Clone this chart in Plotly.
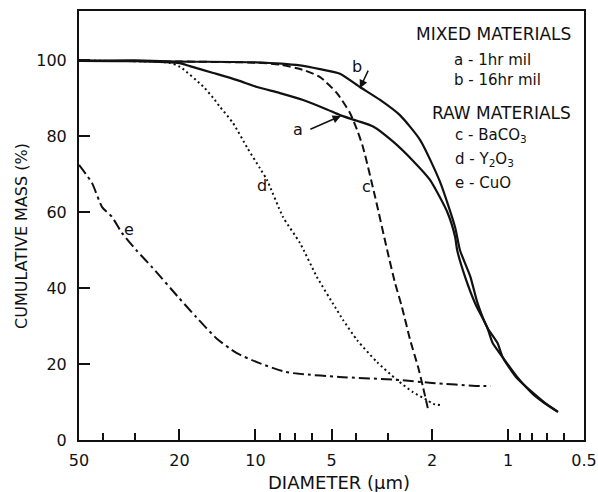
import math
import plotly.graph_objects as go

# ---- data (diameter in um, cumulative mass in %) ----
a_diam = [50, 30, 20, 18.2, 14.7, 11.8, 9.86, 8.0, 6.48, 5.21, 4.63, 3.96, 3.42, 2.85, 2.38, 2.04,
          1.74, 1.62, 1.59, 1.48, 1.35, 1.21, 1.15, 1.05, 0.92, 0.80, 0.72, 0.634]
a_mass = [99.8, 99.7, 99.2, 98.4, 96.6, 94.7, 92.9, 91.3, 89.5, 87.0, 85.5, 84.0, 82.5, 78.5, 73.5, 68.5,
          60.0, 53.5, 50.0, 43.0, 36.0, 29.7, 25.5, 21.8, 16.6, 12.2, 9.8, 7.4]

b_diam = [50, 30, 20, 10, 6.66, 5.55, 4.63, 3.86, 3.21, 2.68, 2.23, 1.86, 1.62, 1.55, 1.41, 1.32,
          1.21, 1.10, 1.05, 0.93, 0.796, 0.714, 0.634]
b_mass = [99.8, 99.9, 99.6, 99.4, 98.6, 97.6, 96.4, 92.9, 89.5, 85.5, 79.0, 68.0, 56.0, 50.0, 43.0, 36.0,
          29.7, 25.5, 21.8, 16.6, 12.4, 9.8, 7.4]

c_diam = [50, 20, 10, 8.0, 6.48, 5.55, 4.76, 4.22, 3.96, 3.75, 3.36, 3.01, 2.80, 2.63, 2.44, 2.27, 2.17, 2.07]
c_mass = [99.8, 99.6, 99.3, 98.8, 97.4, 95.5, 91.3, 86.0, 81.6, 77.0, 64.0, 50.0, 41.3, 35.0, 26.3, 19.2, 13.9, 7.9]

d_diam = [50, 30, 22, 19.9, 16.1, 14.7, 13.8, 12.3, 10.8, 9.6, 9.0, 7.78, 6.66, 5.71, 4.84, 4.50,
          3.96, 3.30, 2.75, 2.38, 2.09, 1.98, 1.86]
d_mass = [99.8, 99.7, 99.3, 98.2, 93.0, 90.0, 87.6, 83.5, 77.0, 71.5, 68.4, 58.7, 51.8, 42.9, 35.0, 31.6,
          26.3, 20.5, 15.8, 12.6, 10.5, 9.5, 9.2]

e_diam = [50, 44.4, 40.5, 37.0, 33.8, 29.7, 25.7, 20.1, 17.2, 14.3, 11.9, 9.7, 7.6, 6.66, 4.67, 2.68,
          2.0, 1.29, 1.17]
e_mass = [72.4, 67.6, 61.3, 58.7, 54.5, 50.0, 45.5, 37.4, 32.4, 26.8, 22.9, 20.3, 17.9, 17.4, 16.6, 15.8,
          15.0, 14.2, 14.2]

x_tickvals = [50, 20, 10, 5, 2, 1, 0.5]
x_ticktext = ["50", "20", "10", "5", "2", "1", "0.5"]
x_minor = [40, 30, 8, 7, 6, 4, 3, 0.9, 0.8, 0.7, 0.6]
y_tickvals = [0, 20, 40, 60, 80, 100]

FONT = "DejaVu Sans"
INK = "#111111"

fig = go.Figure()
def add(x, y, width, dash=None):
    fig.add_trace(go.Scatter(x=x, y=y, mode="lines",
                             line=dict(color=INK, width=width, dash=dash, shape="spline", smoothing=0.6)))
add(a_diam, a_mass, 2.2)
add(b_diam, b_mass, 2.2)
add(c_diam, c_mass, 2, "8px,4px")
add(d_diam, d_mass, 2, "2px,3px")
add(e_diam, e_mass, 2, "11px,4px,3px,4px")

L = math.log10
ann = []
# curve labels
for txt, dx, yy in [("a", 6.79, 81.6), ("b", 3.96, 98.2), ("c", 3.62, 66.6), ("d", 9.4, 67.1), ("e", 31.7, 55.3)]:
    ann.append(dict(x=L(dx), y=yy, xref="x", yref="y", text=txt, showarrow=False,
                    font=dict(family=FONT, size=16, color=INK)))
# arrows
ann.append(dict(x=L(4.59), y=85.3, xref="x", yref="y", text="", showarrow=True, ax=-32, ay=14,
                arrowhead=2, arrowsize=1.1, arrowwidth=1.5, arrowcolor=INK, standoff=0))
ann.append(dict(x=L(3.86), y=92.6, xref="x", yref="y", text="", showarrow=True, ax=9, ay=-19,
                arrowhead=2, arrowsize=1.1, arrowwidth=1.5, arrowcolor=INK, standoff=0))

# legend block
hdr = dict(family=FONT, size=17, color=INK)
ent = dict(family=FONT, size=15, color=INK)
ann.append(dict(x=0.978, y=0.946, xref="paper", yref="paper", text="MIXED MATERIALS", showarrow=False,
                xanchor="right", yanchor="middle", font=hdr))
ann.append(dict(x=0.739, y=0.885, xref="paper", yref="paper", text="a - 1hr mil", showarrow=False,
                xanchor="left", yanchor="middle", font=ent))
ann.append(dict(x=0.739, y=0.839, xref="paper", yref="paper", text="b - 16hr mil", showarrow=False,
                xanchor="left", yanchor="middle", font=ent))
ann.append(dict(x=0.978, y=0.762, xref="paper", yref="paper", text="RAW MATERIALS", showarrow=False,
                xanchor="right", yanchor="middle", font=hdr))
ann.append(dict(x=0.741, y=0.709, xref="paper", yref="paper", text="c - BaCO<sub>3</sub>", showarrow=False,
                xanchor="left", yanchor="middle", font=ent))
ann.append(dict(x=0.741, y=0.655, xref="paper", yref="paper", text="d - Y<sub>2</sub>O<sub>3</sub>", showarrow=False,
                xanchor="left", yanchor="middle", font=ent))
ann.append(dict(x=0.741, y=0.599, xref="paper", yref="paper", text="e - CuO", showarrow=False,
                xanchor="left", yanchor="middle", font=ent))
# axis titles
ann.append(dict(x=0.515, y=-0.100, xref="paper", yref="paper", text="DIAMETER (μm)", showarrow=False,
                xanchor="center", yanchor="middle", font=dict(family=FONT, size=18, color=INK)))
ann.append(dict(x=-0.115, y=0.4755, xref="paper", yref="paper", text="CUMULATIVE MASS (%)", showarrow=False,
                textangle=-90, xanchor="center", yanchor="middle", font=dict(family=FONT, size=16, color=INK)))

fig.update_layout(
    width=598, height=492,
    margin=dict(l=79, r=14, t=11, b=52),
    paper_bgcolor="white", plot_bgcolor="white",
    showlegend=False,
    annotations=ann,
    font=dict(family=FONT, color=INK),
    xaxis=dict(
        type="log", range=[L(50), L(0.5)], automargin=False,
        tickmode="array", tickvals=x_tickvals, ticktext=x_ticktext,
        ticks="inside", ticklen=11, tickwidth=1.5, tickcolor=INK,
        minor=dict(tickmode="array", tickvals=x_minor, ticks="inside", ticklen=7,
                   tickwidth=1.5, tickcolor=INK, showgrid=False),
        showgrid=False, zeroline=False,
        showline=True, linecolor=INK, linewidth=2, mirror=True,
        tickfont=dict(family=FONT, size=16, color=INK),
        ticklabelstandoff=5,
    ),
    yaxis=dict(
        range=[0, 112.9], automargin=False,
        tickmode="array", tickvals=y_tickvals,
        ticks="inside", ticklen=11, tickwidth=1.5, tickcolor=INK,
        showgrid=False, zeroline=False,
        showline=True, linecolor=INK, linewidth=2, mirror=True,
        tickfont=dict(family=FONT, size=16, color=INK),
        ticklabelstandoff=7,
    ),
)

fig.write_html("out.html")
